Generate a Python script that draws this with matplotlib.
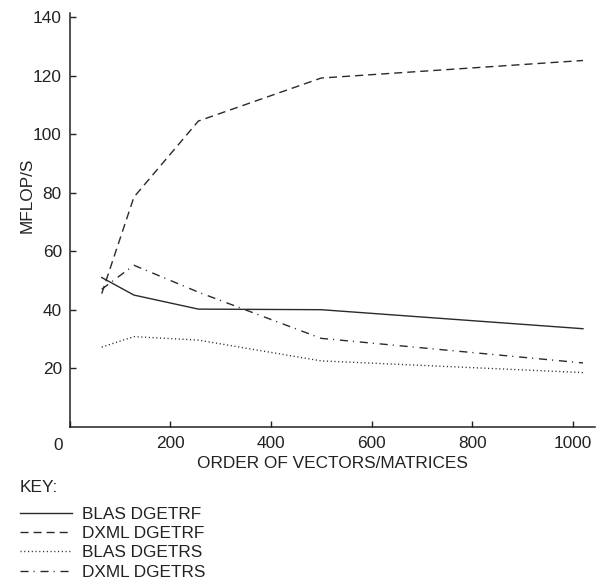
import matplotlib
matplotlib.use("Agg")
import matplotlib.pyplot as plt

plt.rcParams['font.family'] = ['Liberation Sans', 'DejaVu Sans']

order = [64, 128, 256, 500, 1020]
blas_dgetrf = [51.0, 45.0, 40.2, 40.0, 33.5]
dxml_dgetrf = [45.5, 78.5, 104.5, 119.2, 125.2]
blas_dgetrs = [27.2, 30.8, 29.6, 22.5, 18.5]
dxml_dgetrs = [47.0, 55.2, 46.0, 30.2, 21.8]

series_labels = ["BLAS DGETRF", "DXML DGETRF", "BLAS DGETRS", "DXML DGETRS"]
xticks = [0, 200, 400, 600, 800, 1000]
yticks = [20, 40, 60, 80, 100, 120, 140]

W, H = 597, 587
fig = plt.figure(figsize=(W / 100, H / 100), dpi=100)
left_px, right_px, bottom_px, top_px = 69.5, 595, 426.7, 13
ax = fig.add_axes([left_px / W, 1 - bottom_px / H,
                   (right_px - left_px) / W, (bottom_px - top_px) / H])

col = '#2a2a2a'
lw = 1.0
l1, = ax.plot(order, blas_dgetrf, color=col, lw=lw, linestyle='-')
l2, = ax.plot(order, dxml_dgetrf, color=col, lw=lw, linestyle=(0, (5.8, 3.6)))
l3, = ax.plot(order, blas_dgetrs, color=col, lw=lw, linestyle=(0, (0.8, 1.9)))
l4, = ax.plot(order, dxml_dgetrs, color=col, lw=lw, linestyle=(0, (5.8, 3.6, 0.8, 4.2)))

ax.set_xlim(0, (right_px - left_px) / 0.5034)
ax.set_ylim(0, (bottom_px - top_px) / 2.925)

for s in ['top', 'right']:
    ax.spines[s].set_visible(False)
for s in ['left', 'bottom']:
    ax.spines[s].set_linewidth(1.1)
    ax.spines[s].set_color('#222222')

fs = 12.4
ax.set_xticks(xticks)
ax.set_xticklabels([''] + [str(v) for v in xticks[1:]])
ax.set_yticks(yticks)
ax.set_yticklabels([str(v) for v in yticks])
ax.tick_params(axis='both', direction='in', length=4, width=1.0, colors='#222222',
               labelsize=fs, labelcolor='#222222')
ax.tick_params(axis='x', pad=6.5)
ax.tick_params(axis='y', pad=5.5)
ax.annotate('0', xy=(0, 0), xycoords=('data', 'axes fraction'),
            xytext=(-11.5, -11.5), textcoords='offset pixels',
            ha='center', va='top', fontsize=fs, color='#222222')

ax.set_xlabel('ORDER OF VECTORS/MATRICES', fontsize=fs, color='#222222', labelpad=4)
ax.set_ylabel('MFLOP/S', fontsize=fs, color='#222222')
ax.yaxis.set_label_coords((35 - left_px) / (right_px - left_px), 0.56)

fig.text(20 / W, 1 - 488 / H, 'KEY:', ha='left', va='center', fontsize=fs, color='#222222')

leg = fig.legend([l1, l2, l3, l4], series_labels, loc='upper left',
                 bbox_to_anchor=(20 / W, 1 - 507 / H), frameon=False,
                 fontsize=fs, handlelength=3.0, handletextpad=0.58,
                 labelspacing=0.24, borderpad=0, borderaxespad=0)
for t in leg.get_texts():
    t.set_color('#222222')

fig.savefig('out.png', dpi=100)
